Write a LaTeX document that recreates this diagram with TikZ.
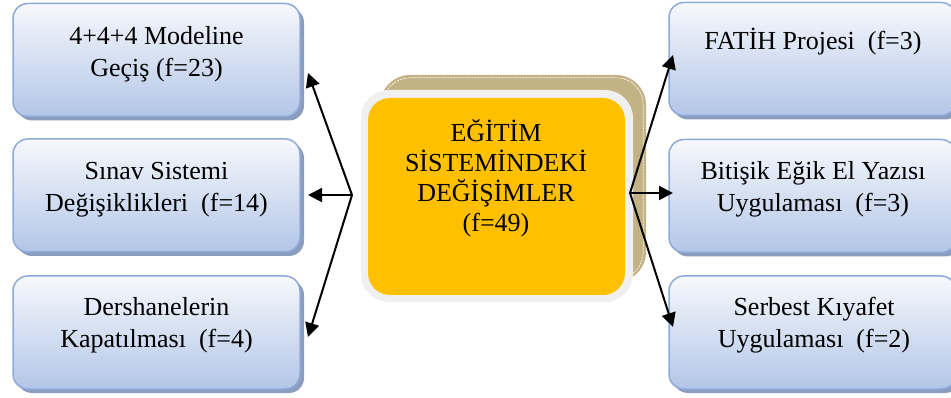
\documentclass[tikz,border=0pt]{standalone}
\usepackage{fontspec}
\setmainfont{Liberation Serif}
\usetikzlibrary{arrows.meta,shadows,calc}
\definecolor{boxborder}{HTML}{8EAADB}
\definecolor{boxtop}{HTML}{F6F8FC}
\definecolor{boxbot}{HTML}{B3C6E7}
\definecolor{boxshadow}{HTML}{8C9CBC}
\definecolor{beige}{HTML}{C3B283}
\definecolor{frame}{HTML}{F0F0F0}
\definecolor{gold}{HTML}{FFC000}
\tikzset{
  bluebox/.style={rectangle, rounded corners=15pt, draw=boxborder, line width=1.5pt,
    top color=boxtop, bottom color=boxbot, inner sep=0pt, outer sep=0pt,
    minimum width=287pt, minimum height=113pt,
    drop shadow={shadow xshift=4pt, shadow yshift=-4pt, fill=boxshadow, opacity=1}},
  boxtext/.style={anchor=base, align=center, inner sep=0pt, font=\fontsize{26}{32}\selectfont},
  conn/.style={line width=2pt, -{Triangle[length=14pt,width=14pt]}},
}
\begin{document}
\begin{tikzpicture}[x=1pt,y=-1pt]
\useasboundingbox (0,0) rectangle (951,398);
% left boxes
\node[bluebox] (l1) at (156.5,60) {};
\node[bluebox] (l2) at (156.5,195.5) {};
\node[bluebox] (l3) at (156.5,332.5) {};
% right boxes
\node[bluebox] (r1) at (812.5,59) {};
\node[bluebox] (r2) at (812.5,196) {};
\node[bluebox] (r3) at (812.5,332.5) {};
% texts (anchor base = last line baseline)
\node[boxtext] (l1t) at (156.5,77) {4+4+4 Modeline\\Geçiş (f=23)};
\node[boxtext] (l2t) at (156.5,212) {Sınav Sistemi\\Değişiklikleri\ \ (f=14)};
\node[boxtext] (l3t) at (156.5,347) {Dershanelerin\\Kapatılması\ \ (f=4)};
\node[boxtext] (r1t) at (813,50) {FATİH Projesi\ \ (f=3)};
\node[boxtext] (r2t) at (813,212) {Bitişik Eğik El Yazısı\\Uygulaması\ \ (f=3)};
\node[boxtext] (r3t) at (814,347) {Serbest Kıyafet\\Uygulaması\ \ (f=2)};
% centre
\node[rectangle, rounded corners=30pt, fill=beige, minimum width=266pt, minimum height=207pt, inner sep=0pt] (cb) at (513,178.5) {};
\draw[white, line width=0.6pt, dash pattern=on 2pt off 1pt, rounded corners=27pt]
  ($(cb.north west)+(3,3)$) rectangle ($(cb.south east)+(-3,-3)$);
\node[rectangle, rounded corners=28pt, fill=frame, minimum width=272pt, minimum height=212pt, inner sep=0pt] (cg) at (497,196) {};
\node[rectangle, rounded corners=22pt, fill=gold, minimum width=257pt, minimum height=197pt, inner sep=0pt] (co) at (496.5,196.5) {};
\node[anchor=base, align=center, inner sep=0pt, font=\fontsize{26}{30}\selectfont] (ct) at (496,232)
  {EĞİTİM\\SİSTEMİNDEKİ\\DEĞİŞİMLER\\(f=49)};
% connectors
\coordinate (hl) at (352,195);
\coordinate (hr) at (630,193);
\coordinate (tl1) at (308,73);
\coordinate (tl2) at (308,195);
\coordinate (tl3) at (308,337);
\coordinate (tr1) at (673,55);
\coordinate (tr2) at (673,193);
\coordinate (tr3) at (673,327);
\draw[conn] (hl) -- (tl1);
\draw[conn] (hl) -- (tl2);
\draw[conn] (hl) -- (tl3);
\draw[conn] (hr) -- (tr1);
\draw[conn] (hr) -- (tr2);
\draw[conn] (hr) -- (tr3);
\end{tikzpicture}
\end{document}
